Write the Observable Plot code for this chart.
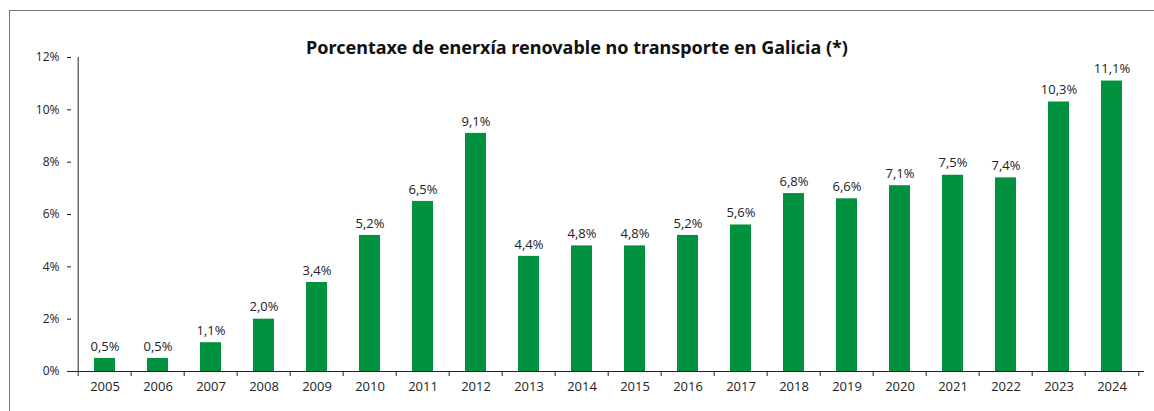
<!DOCTYPE html>
<html>
<head>
<meta charset="utf-8">
<script src="https://cdn.jsdelivr.net/npm/d3@7"></script>
<script src="https://cdn.jsdelivr.net/npm/@observablehq/plot@0.6"></script>
<style>
  html, body { margin: 0; padding: 0; background: #fff; overflow: hidden; }
  #wrap { position: relative; width: 1154px; height: 411px; }
  #frame { position: absolute; left: 9px; top: 10px; width: 1300px; height: 600px; border: 1.5px solid #7a7a7a; box-sizing: border-box; }
  #title { position: absolute; left: 0; width: 1154px; top: 35px; text-align: center;
           font-family: "Noto Sans", sans-serif; font-weight: bold; font-size: 18px; color: #111; }
  #chart { position: absolute; left: 0; top: 0; }
</style>
</head>
<body>
<div id="wrap">
  <div id="frame"></div>
  <div id="chart"></div>
  <div id="title">Porcentaxe de enerxía renovable no transporte en Galicia (*)</div>
</div>
<script>
const years = ["2005","2006","2007","2008","2009","2010","2011","2012","2013","2014",
               "2015","2016","2017","2018","2019","2020","2021","2022","2023","2024"];
const values = [0.5, 0.5, 1.1, 2.0, 3.4, 5.2, 6.5, 9.1, 4.4, 4.8,
                4.8, 5.2, 5.6, 6.8, 6.6, 7.1, 7.5, 7.4, 10.3, 11.1];
const yTicks = [0, 2, 4, 6, 8, 10, 12];

const data = years.map((y, i) => ({year: y, value: values[i]}));
const W = 1154, H = 411, ML = 71, MR = 10, MT = 57, MB = 40;
const step = (W - ML - MR) / years.length;
const fmt = v => v.toFixed(1).replace(".", ",") + "%";

const chart = Plot.plot({
  width: W, height: H,
  marginLeft: ML, marginRight: MR, marginTop: MT, marginBottom: MB,
  style: {fontFamily: "'Open Sans', sans-serif", fontSize: "13px", color: "#222", background: "transparent"},
  x: {domain: years, padding: 0, label: null},
  y: {domain: [0, 12], label: null},
  marks: [
    Plot.barY(data, {x: "year", y: "value", fill: "#00923f", insetLeft: 16, insetRight: 16}),
    Plot.text(data, {x: "year", y: "value", text: d => fmt(d.value), dy: -12, fill: "#222", fontSize: 13}),
    Plot.axisY({ticks: yTicks, tickFormat: d => d + "%", tickSize: 4, tickPadding: 8, fontSize: 12, stroke: "#222", label: null}),
    Plot.ruleX([years[0]], {dx: -step / 2, y1: 0, y2: 12, stroke: "#222"}),
    Plot.ruleY([0], {stroke: "#222"}),
    Plot.axisX({tickSize: 0, tickPadding: 10, fontSize: 13, label: null}),
    Plot.axisX({tickSize: 5, tickFormat: () => "", dx: -step / 2, stroke: "#222", label: null}),
    Plot.axisX({ticks: [years[years.length - 1]], tickSize: 5, tickFormat: () => "", dx: step / 2, stroke: "#222", label: null})
  ]
});
document.getElementById("chart").appendChild(chart);
</script>
</body>
</html>
